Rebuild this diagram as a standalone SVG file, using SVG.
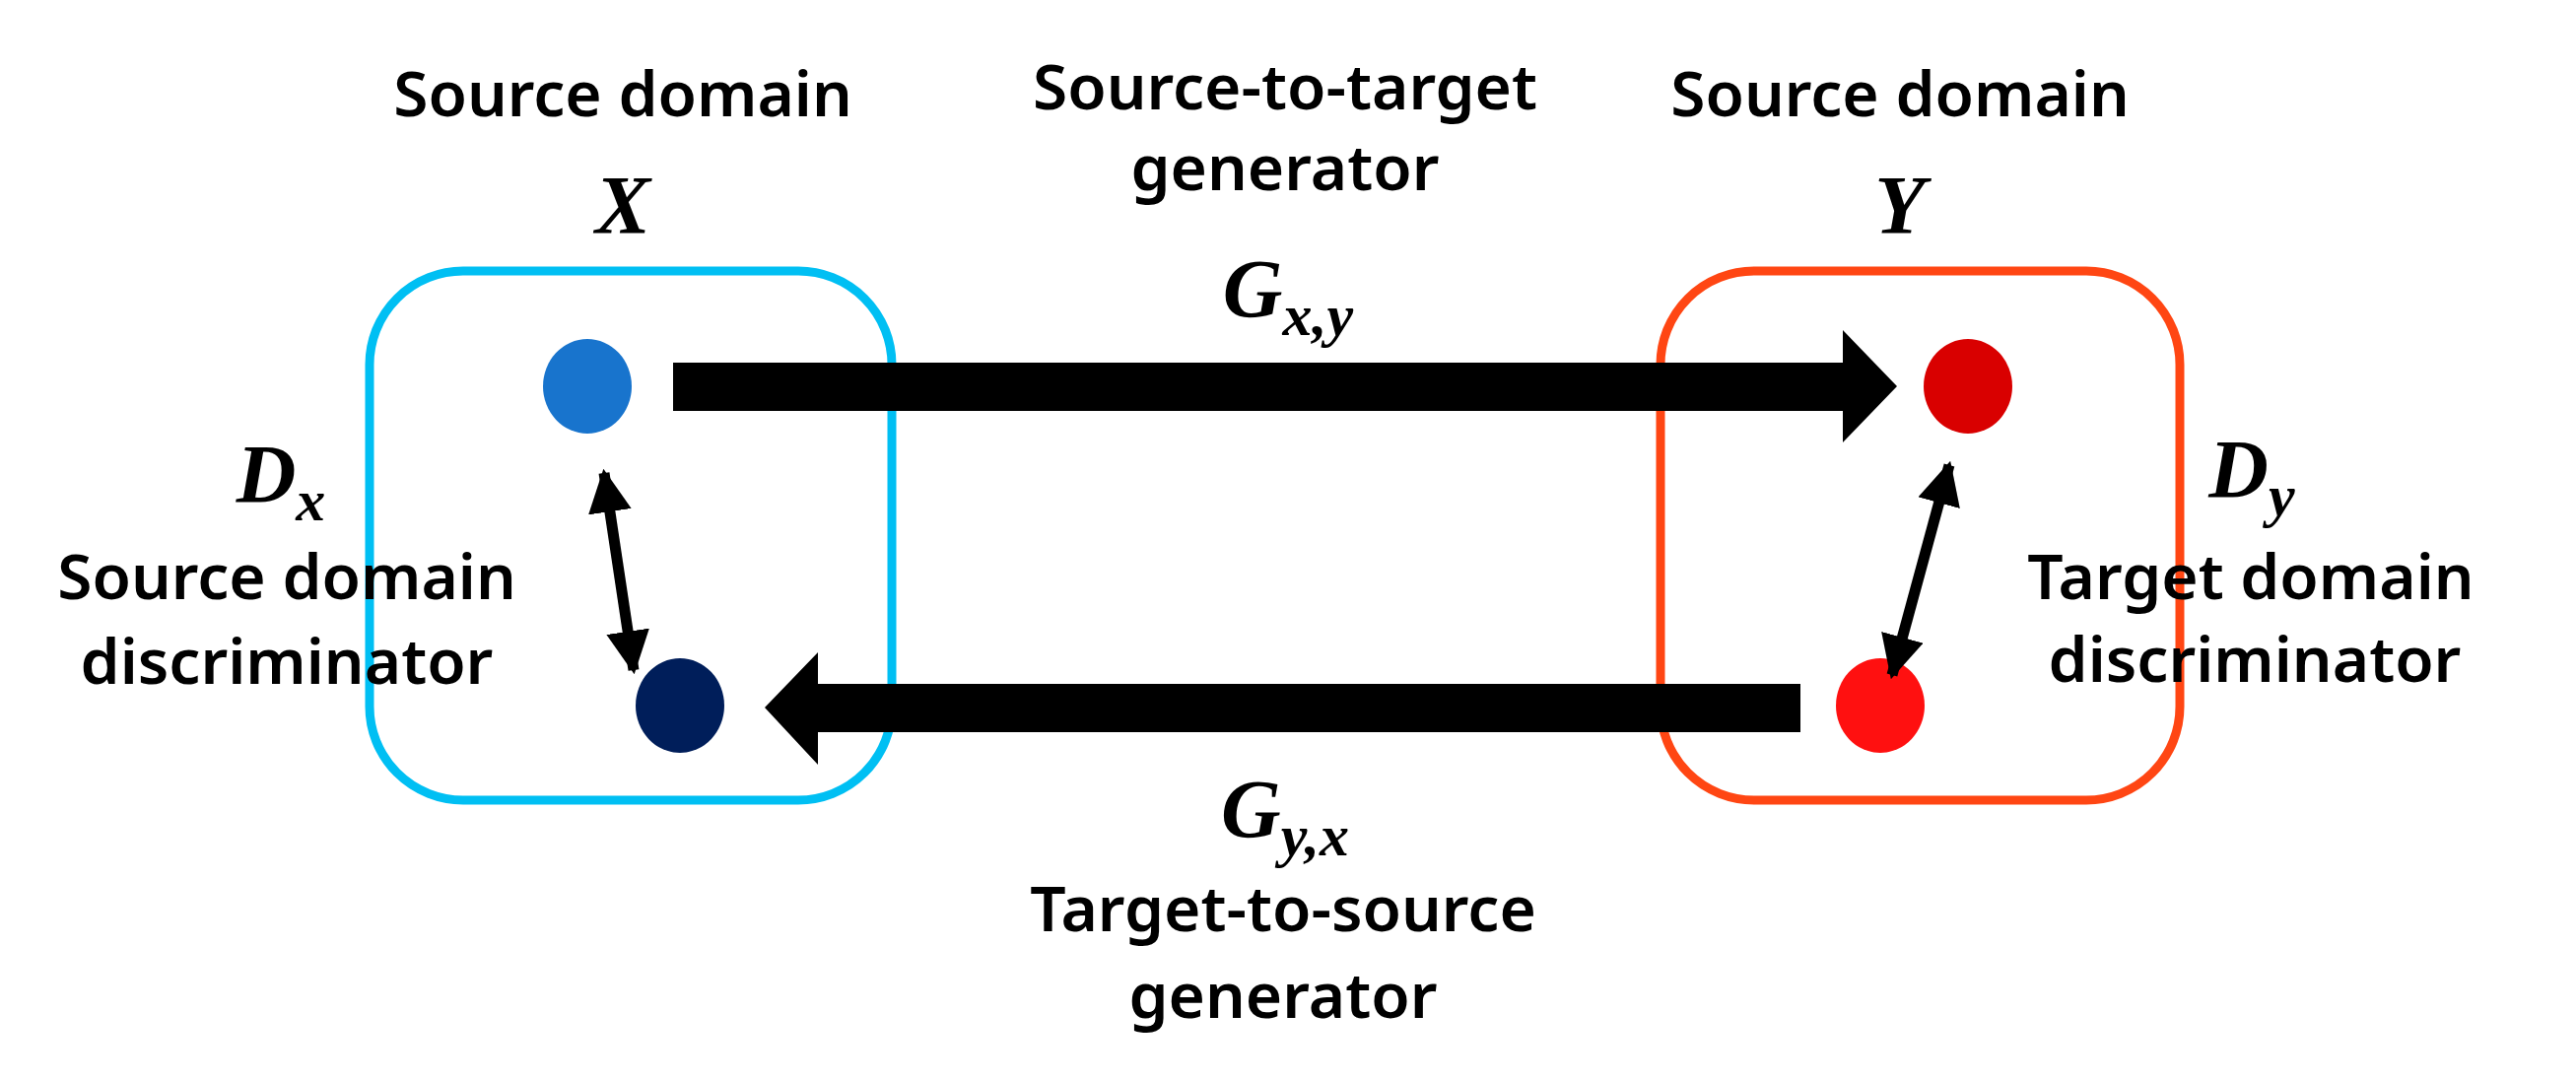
<svg xmlns="http://www.w3.org/2000/svg" width="2614" height="1097" viewBox="0 0 2614 1097">
<style>
.t{font-family:"Noto Sans","Liberation Sans",sans-serif;font-weight:600;font-size:64px;text-anchor:middle;fill:#000}
.m{font-family:"Liberation Serif","DejaVu Serif",serif;font-style:italic;font-weight:bold;font-size:84px;text-anchor:middle;fill:#000}
.s{font-size:60px}
</style>
<defs>
<marker id="ah" viewBox="0 0 10 10" refX="9" refY="5" markerWidth="4" markerHeight="4" orient="auto-start-reverse" markerUnits="strokeWidth"><path d="M0,0 L10,5 L0,10 Z" fill="#000"/></marker>
</defs>
<rect width="2614" height="1097" fill="#fff"/>
<g id="domainX"><rect x="375" y="275" width="530" height="537" rx="95" fill="none" stroke="#00bff3" stroke-width="9"/></g>
<g id="domainY"><rect x="1685" y="275" width="527" height="537" rx="95" fill="none" stroke="#ff4613" stroke-width="9"/></g>
<g id="x1"><ellipse cx="596" cy="392" rx="45" ry="48" fill="#1874cd"/></g>
<g id="x2"><ellipse cx="690" cy="716" rx="45" ry="48" fill="#001e5a"/></g>
<g id="y1"><ellipse cx="1997" cy="392" rx="45" ry="48" fill="#d90000"/></g>
<g id="y2"><ellipse cx="1908" cy="716" rx="45" ry="48" fill="#ff1010"/></g>
<g id="connectors">
<path d="M683,368 H1870 V335 L1925,392 L1870,449 V417 H683 Z" fill="#000"/>
<path d="M1827,694 H830 V662 L776,718 L830,776 V743 H1827 Z" fill="#000"/>
<line x1="613" y1="480" x2="643" y2="680" stroke="#000" stroke-width="11" marker-start="url(#ah)" marker-end="url(#ah)"/>
<line x1="1978" y1="472" x2="1920" y2="685" stroke="#000" stroke-width="11" marker-start="url(#ah)" marker-end="url(#ah)"/>
</g>
<g id="labels">
<text class="t" x="632" y="118">Source domain</text>
<text class="m" x="632" y="237">X</text>
<text class="t" x="1304" y="111">Source-to-target</text>
<text class="t" x="1304" y="193">generator</text>
<text class="m" x="1307" y="322">G<tspan class="s" dy="18">x,y</tspan></text>
<text class="t" x="1928" y="118">Source domain</text>
<text class="m" x="1928" y="237">Y</text>
<text class="m" x="285" y="510">D<tspan class="s" dy="18">x</tspan></text>
<text class="t" x="291" y="608">Source domain</text>
<text class="t" x="291" y="694">discriminator</text>
<text class="m" x="2285" y="505">D<tspan class="s" dy="18">y</tspan></text>
<text class="t" x="2284" y="608">Target domain</text>
<text class="t" x="2288" y="692">discriminator</text>
<text class="m" x="1304" y="850">G<tspan class="s" dy="18">y,x</tspan></text>
<text class="t" x="1302" y="945">Target-to-source</text>
<text class="t" x="1302" y="1033">generator</text>
</g>
</svg>
